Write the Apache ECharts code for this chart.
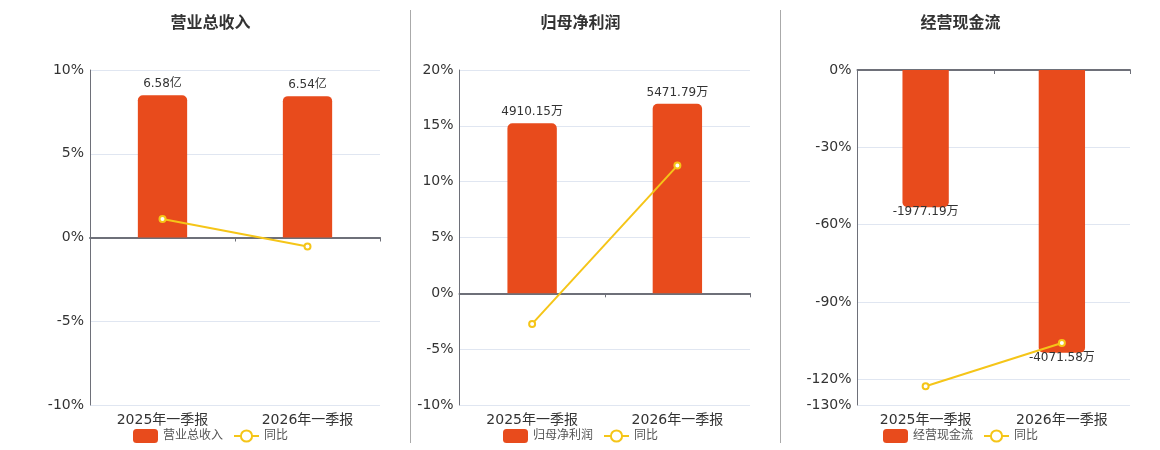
<!DOCTYPE html>
<html>
<head>
<meta charset="utf-8">
<script src="https://cdn.jsdelivr.net/npm/echarts@6/dist/echarts.min.js"></script>
<style>
    html, body {margin: 0; padding: 0; background: #fff;}
    #main {width: 1160px; height: 450px;}
</style>
</head>
<body>
<div id="main"></div>
<script>
// 数据
let categories = ['2025年一季报', '2026年一季报'];
let titles = ['营业总收入', '归母净利润', '经营现金流'];
let units = ['亿', '万', '万'];
let revenueValues = [6.58, 6.54];          //营业总收入(亿)
let revenueYoy = [1.11, -0.54];            //同比(%)
let profitValues = [4910.15, 5471.79];     //归母净利润(万)
let profitYoy = [-2.74, 11.44];
let cashValues = [-1977.19, -4071.58];     //经营现金流(万)
let cashYoy = [-122.7, -105.93];
let cashPctTicks = [0, -30, -60, -90, -120, -130];

let barValues = [revenueValues, profitValues, cashValues];
let yoyValues = [revenueYoy, profitYoy, cashYoy];

// 每个小图的位置和坐标范围
let panels = [
    {left: 90, right: 780, center: 210.5, pctMin: -10, pctMax: 10, interval: 5, valMin: -7.75, valMax: 7.75},
    {left: 459.5, right: 410, center: 580.5, pctMin: -10, pctMax: 20, interval: 5, valMin: -3225, valMax: 6450},
    {left: 857.5, right: 30, center: 960.5, pctMin: -130, pctMax: 0, valMin: -4825, valMax: 0, customTicks: cashPctTicks}
];

let barColor = '#E84B1C';
let lineColor = '#F5C518';
let axisColor = '#6E7079';
let font = "'DejaVu Sans', 'Noto Sans CJK SC', sans-serif";

let option = {
    textStyle: {fontFamily: font},
    animation: false,
    title: [], legend: [], grid: [], xAxis: [], yAxis: [], series: [],
    graphic: [410.5, 780.5].map(x => ({
        type: 'line',
        shape: {x1: x, y1: 10, x2: x, y2: 443},
        style: {stroke: '#aaa', lineWidth: 1}
    }))
};

panels.forEach((p, i) => {
    option.title.push({
        text: titles[i],
        left: p.center - 40,
        top: 14,
        padding: 0,
        textStyle: {fontSize: 16, fontWeight: 'bold', color: '#333', fontFamily: "'Noto Sans CJK SC', sans-serif"}
    });
    option.legend.push({
        data: [titles[i], '同比'],
        left: p.center - 77.5,
        top: 429,
        padding: 0,
        itemWidth: 25,
        itemHeight: 14,
        itemGap: 10,
        textStyle: {fontSize: 12, color: '#555'}
    });
    option.grid.push({left: p.left, right: p.right, top: 70, bottom: 45});

    // 标签轴(底部) + 零线轴
    option.xAxis.push({
        type: 'category', gridIndex: i, data: categories, position: 'bottom',
        axisLine: {show: false, onZero: false},
        axisTick: {show: false},
        axisLabel: {fontSize: 14, color: '#333', margin: 8}
    });
    option.xAxis.push({
        type: 'category', gridIndex: i, data: categories, position: 'bottom',
        axisLine: {show: true, onZero: true, onZeroAxisIndex: i * 2, lineStyle: {color: axisColor, width: 2}},
        axisTick: {show: true, length: 4, lineStyle: {color: axisColor}},
        axisLabel: {show: false}
    });

    let pctAxis = {
        type: 'value', gridIndex: i, min: p.pctMin, max: p.pctMax,
        axisLine: {show: true, lineStyle: {color: axisColor}},
        axisTick: {show: false},
        splitLine: {show: true, lineStyle: {color: '#E0E6F1'}},
        axisLabel: {fontSize: 14, color: '#333', margin: 6, formatter: '{value}%'}
    };
    if (p.customTicks) {
        pctAxis.axisLabel.customValues = p.customTicks;
        pctAxis.axisTick.customValues = p.customTicks;
    } else {
        pctAxis.interval = p.interval;
    }
    option.yAxis.push(pctAxis);
    option.yAxis.push({
        type: 'value', gridIndex: i, min: p.valMin, max: p.valMax, show: false,
        splitLine: {show: false}
    });

    let negative = barValues[i][0] < 0;
    option.series.push({
        name: titles[i],
        type: 'bar',
        xAxisIndex: i * 2,
        yAxisIndex: i * 2 + 1,
        barWidth: '34%',
        data: barValues[i],
        itemStyle: {color: barColor, borderRadius: negative ? [0, 0, 5, 5] : [5, 5, 0, 0]},
        label: {
            show: true,
            position: negative ? 'bottom' : 'top',
            distance: negative ? -1 : 5,
            fontSize: 12,
            color: '#333',
            formatter: (v) => v.value + units[i]
        }
    });
    option.series.push({
        name: '同比',
        type: 'line',
        xAxisIndex: i * 2,
        yAxisIndex: i * 2,
        data: yoyValues[i],
        symbol: 'emptyCircle',
        symbolSize: 6,
        z: 5,
        itemStyle: {color: lineColor},
        lineStyle: {color: lineColor, width: 2}
    });
});

let chart = echarts.init(document.getElementById('main'));
chart.setOption(option);
</script>
</body>
</html>
